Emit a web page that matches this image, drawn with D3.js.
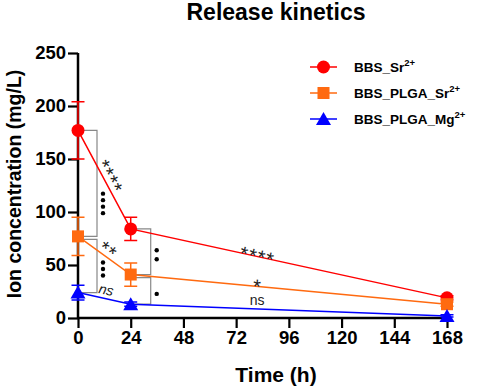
<!DOCTYPE html>
<html>
<head>
<meta charset="utf-8">
<script src="https://cdn.jsdelivr.net/npm/d3@7"></script>
<style>
    body { margin: 0; background: #fff; }
    text { font-family: Arial, "Liberation Sans", sans-serif; }
</style>
</head>
<body>
<div id="chart"></div>
<script>
// data
const times = [0, 24, 168];
const xTicks = [0, 24, 48, 72, 96, 120, 144, 168];
const yTicks = [0, 50, 100, 150, 200, 250];

const seriesNames = ["BBS_Sr", "BBS_PLGA_Sr", "BBS_PLGA_Mg"];
const seriesSup = ["2+", "2+", "2+"];
const seriesColors = ["#ff0000", "#ff6a10", "#0000ff"];
const seriesSymbols = ["circle", "square", "triangle"];

const srMeans = [177, 84, 19];
const srErrors = [27, 11, 2];
const plgaSrMeans = [77, 41, 13];
const plgaSrErrors = [18, 11, 2];
const plgaMgMeans = [24, 13, 2];
const plgaMgErrors = [7, 2, 1];

// significance between groups at a time point: [upper series, lower series, time, dot count]
const dotBrackets = [
    [0, 1, 0, 4],
    [1, 2, 0, 3],
    [0, 1, 24, 2],
    [1, 2, 24, 1]
];
// significance along a line segment: [series, segment start index, label]
const lineLabels = [
    [0, 0, "****"],
    [1, 0, "**"],
    [2, 0, "ns"],
    [0, 1, "****"],
    [1, 1, "*"],
    [2, 1, "ns"]
];

let width = 477, height = 389;
let margin = {top: 53, right: 30, bottom: 71, left: 78};

let svg = d3.select("#chart").append("svg")
    .attr("width", width)
    .attr("height", height);

let x = d3.scaleLinear().domain([0, 168]).range([margin.left, 447]);
let y = d3.scaleLinear().domain([0, 250]).range([318, margin.top]);

let means = [srMeans, plgaSrMeans, plgaMgMeans];
let errors = [srErrors, plgaSrErrors, plgaMgErrors];

let series = seriesNames.map((name, i) => ({
    name: name,
    color: seriesColors[i],
    symbol: seriesSymbols[i],
    values: times.map((t, j) => ({t: t, v: means[i][j], e: errors[i][j]}))
}));

// title
svg.append("text")
    .attr("x", 276)
    .attr("y", 20)
    .attr("text-anchor", "middle")
    .style("font-size", "23px")
    .style("font-weight", "bold")
    .text("Release kinetics");

// axes
let xAxis = d3.axisBottom(x).tickValues(xTicks).tickSize(10).tickPadding(3);
let yAxis = d3.axisLeft(y).tickValues(yTicks).tickSize(10).tickPadding(2);

let gx = svg.append("g")
    .attr("transform", `translate(0, ${y(0)})`)
    .call(xAxis);
let gy = svg.append("g")
    .attr("transform", `translate(${x(0)}, 0)`)
    .call(yAxis);

[gx, gy].forEach(g => {
    g.select(".domain").attr("stroke", "#000").attr("stroke-width", 2.5);
    g.selectAll(".tick line").attr("stroke", "#000").attr("stroke-width", 2.2);
    g.selectAll(".tick text")
        .style("font-size", "18.5px")
        .style("font-weight", "bold")
        .attr("fill", "#000");
});
gx.select(".domain").attr("d", `M${x(0)},0H${x(168)}`);
gy.select(".domain").attr("d", `M0,${y(250)}V${y(0)}`);

// axis titles
svg.append("text")
    .attr("x", 276)
    .attr("y", 382)
    .attr("text-anchor", "middle")
    .style("font-size", "21px")
    .style("font-weight", "bold")
    .text("Time (h)");

svg.append("text")
    .attr("transform", `translate(21, 184) rotate(-90)`)
    .attr("text-anchor", "middle")
    .style("font-size", "19.5px")
    .style("font-weight", "bold")
    .text("Ion concentration (mg/L)");

// brackets with dots
let bracketOffset = {0: 19, 24: 20};
dotBrackets.forEach(b => {
    let [hi, lo, t, n] = b;
    let j = times.indexOf(t);
    let x0 = x(t) + 3;
    let x1 = x(t) + bracketOffset[t];
    let y0 = y(means[hi][j]) + (hi === 0 ? 0 : 3);
    let y1 = y(means[lo][j]);
    svg.append("path")
        .attr("d", `M${x0},${y0}H${x1}V${y1}H${x0}`)
        .attr("fill", "none")
        .attr("stroke", "#888")
        .attr("stroke-width", 1.2);

    let midY = (y0 + y1) / 2 + (n === 4 ? 20 : 3);
    let step = n === 2 ? 9 : 6.5;
    d3.range(n).forEach(k => {
        svg.append("circle")
            .attr("cx", x1 + 6)
            .attr("cy", midY + (k - (n - 1) / 2) * step)
            .attr("r", 2.2)
            .attr("fill", "#000");
    });
});

// lines
let line = d3.line().x(d => x(d.t)).y(d => y(d.v));
series.forEach(s => {
    svg.append("path")
        .datum(s.values)
        .attr("d", line)
        .attr("fill", "none")
        .attr("stroke", s.color)
        .attr("stroke-width", 1.5);
});

// line labels
lineLabels.forEach(l => {
    let [si, j, label] = l;
    let a = series[si].values[j], b = series[si].values[j + 1];
    let frac = j === 0 ? 0.5 : 0.4;
    let px = x(a.t) + frac * (x(b.t) - x(a.t));
    let py = y(a.v) + frac * (y(b.v) - y(a.v));
    let ang = Math.atan2(y(b.v) - y(a.v), x(b.t) - x(a.t)) * 180 / Math.PI;
    let isNs = label === "ns";
    let rot = isNs ? (j === 0 ? ang : 0) : ang;
    let off = isNs ? -4 : (j === 0 ? 1 : 7);
    svg.append("text")
        .attr("transform", `translate(${px}, ${py}) rotate(${rot})`)
        .attr("y", off)
        .attr("text-anchor", "middle")
        .style("font-size", isNs ? "14px" : "20px")
        .style("letter-spacing", isNs ? "0px" : "1px")
        .style("font-style", isNs && j === 0 ? "italic" : "normal")
        .attr("fill", "#222")
        .text(label);
});

// error bars and markers
function drawSymbol(g, type, cx, cy, color) {
    if (type === "circle") {
        g.append("circle").attr("cx", cx).attr("cy", cy).attr("r", 6.5).attr("fill", color);
    } else if (type === "square") {
        g.append("rect").attr("x", cx - 6).attr("y", cy - 6).attr("width", 12).attr("height", 12).attr("fill", color);
    } else {
        g.append("path")
            .attr("d", `M${cx},${cy - 7}L${cx + 7.5},${cy + 6}L${cx - 7.5},${cy + 6}Z`)
            .attr("fill", color);
    }
}

series.forEach(s => {
    let g = svg.append("g");
    s.values.forEach(d => {
        let cx = x(d.t);
        g.append("path")
            .attr("d", `M${cx},${y(d.v + d.e)}V${y(d.v - d.e)}M${cx - 6.5},${y(d.v + d.e)}H${cx + 6.5}M${cx - 6.5},${y(d.v - d.e)}H${cx + 6.5}`)
            .attr("stroke", s.color)
            .attr("stroke-width", 1.5)
            .attr("fill", "none");
        drawSymbol(g, s.symbol, cx, y(d.v), s.color);
    });
});

// legend
let legend = svg.append("g").attr("transform", "translate(310, 67)");
series.forEach((s, i) => {
    let row = legend.append("g").attr("transform", `translate(0, ${i * 26})`);
    row.append("line")
        .attr("x1", 0).attr("x2", 27)
        .attr("stroke", s.color)
        .attr("stroke-width", 1.5);
    drawSymbol(row, s.symbol, 13.5, 0, s.color);
    let t = row.append("text")
        .attr("x", 44)
        .attr("y", 5)
        .style("font-size", "13.5px")
        .style("font-weight", "bold");
    t.append("tspan").text(s.name);
    t.append("tspan").attr("dy", -6).style("font-size", "9.5px").text(seriesSup[i]);
});
</script>
</body>
</html>
